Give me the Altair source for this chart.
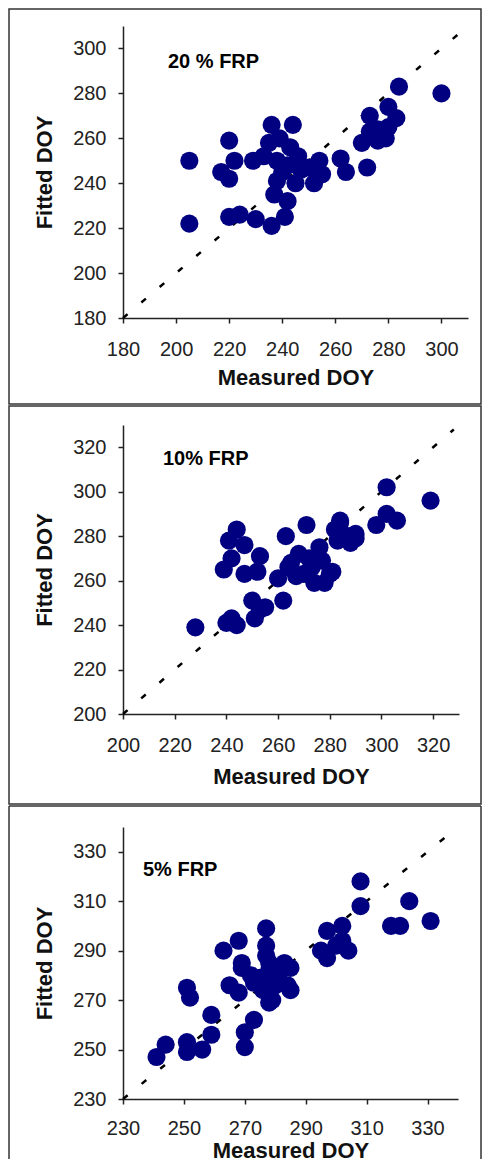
import altair as alt
import pandas as pd

# ---- data ----
meas_20 = [205, 205, 220, 217, 220, 222, 229, 220, 224, 230, 236, 236, 244, 235, 243, 238, 241, 242,
           237, 238, 240, 242, 247, 246, 252, 254, 255, 262, 264, 272, 270, 273, 273, 276, 276, 279,
           280, 280, 283, 284, 300, 250, 245, 233, 239]
fit_20 = [250, 222, 259, 245, 242, 250, 250, 225, 226, 224, 221, 266, 266, 258, 256, 250, 225, 232,
          235, 241, 245, 248, 246, 252, 240, 250, 244, 251, 245, 247, 258, 263, 270, 264, 259, 260,
          265, 274, 269, 283, 280, 247, 240, 252, 260]

meas_10 = [228, 240, 244, 242, 241, 244, 247, 242, 239, 247, 253, 252, 250, 253, 251, 255, 262, 263,
           260, 271, 265, 268, 273, 274, 277, 280, 276, 270, 264, 278, 282, 284, 283, 288, 290, 287,
           302, 319, 302, 298, 306, 284, 290, 281, 267, 272]
fit_10 = [239, 241, 240, 243, 278, 283, 276, 270, 265, 263, 271, 264, 251, 247, 243, 248, 251, 280,
          261, 285, 268, 272, 266, 259, 269, 263, 275, 263, 266, 259, 283, 286, 278, 277, 281, 280,
          302, 296, 290, 285, 287, 287, 279, 264, 262, 270]

meas_5 = [241, 244, 251, 252, 251, 251, 256, 259, 259, 263, 268, 265, 269, 268, 270, 270, 273, 277,
          277, 273, 278, 279, 283, 284, 281, 276, 272, 269, 277, 285, 285, 278, 280, 295, 297, 297,
          302, 304, 302, 300, 308, 308, 318, 321, 324, 331, 275, 278]
fit_5 = [247, 252, 275, 271, 253, 249, 250, 264, 256, 290, 294, 276, 285, 273, 251, 257, 262, 299,
         292, 277, 282, 270, 285, 276, 279, 274, 280, 283, 288, 283, 274, 269, 276, 290, 287, 298,
         300, 290, 294, 292, 318, 308, 300, 300, 310, 302, 279, 285]

labels = ["20 % FRP", "10% FRP", "5% FRP"]
x_domains = [[180, 310], [200, 330], [230, 340]]
y_domains = [[180, 310], [200, 330], [230, 340]]
x_ticks = [[180, 200, 220, 240, 260, 280, 300],
           [200, 220, 240, 260, 280, 300, 320],
           [230, 250, 270, 290, 310, 330]]
y_ticks = [[180, 200, 220, 240, 260, 280, 300],
           [200, 220, 240, 260, 280, 300, 320],
           [230, 250, 270, 290, 310, 330]]
diag_ends = [[180, 306], [200, 328], [230, 336]]

NAVY = "#000080"
FONT = "Liberation Sans"
FRAME_R = 358


def panel(meas, fit, diag, label, xdom, ydom, xt, yt, w, h,
          lab_xy, frame_top, frame_bottom, title_y, closed=True, lab_pad=16):
    pts = pd.DataFrame({"m": meas, "f": fit})
    dg = pd.DataFrame({"m": diag, "f": diag})
    xs = alt.Scale(domain=xdom, nice=False, zero=False)
    ys = alt.Scale(domain=ydom, nice=False, zero=False)
    xax = alt.Axis(values=xt, format="d", title="Measured DOY", labelFlush=False,
                   labelPadding=lab_pad, titleY=title_y, titleBaseline="middle")
    yax = alt.Axis(values=yt, format="d", title="Fitted DOY", labelFlush=False,
                   titleX=-79, titleBaseline="middle")

    line = alt.Chart(dg).mark_line(color="black", strokeWidth=2.5,
                                   strokeDash=[6, 18]).encode(
        x=alt.X("m:Q", scale=xs, axis=xax),
        y=alt.Y("f:Q", scale=ys, axis=yax),
    )
    dots = alt.Chart(pts).mark_circle(color=NAVY, opacity=1, size=330).encode(
        x=alt.X("m:Q", scale=xs),
        y=alt.Y("f:Q", scale=ys),
    )
    one = pd.DataFrame({"t": [label]})
    txt = alt.Chart(one).mark_text(align="left", baseline="middle", font=FONT,
                                   fontSize=20, fontWeight="bold", color="black").encode(
        x=alt.value(lab_xy[0]), y=alt.value(lab_xy[1]), text="t:N")
    layers = [line, dots, txt]
    fr = alt.Chart(pd.DataFrame({"a": [0]}))
    if closed:
        layers.append(fr.mark_rect(filled=False, color="#333333", strokeWidth=1.5).encode(
            x=alt.value(-114), x2=alt.value(FRAME_R),
            y=alt.value(frame_top), y2=alt.value(h + frame_bottom)))
    else:
        for xv in (-114, FRAME_R):
            layers.append(fr.mark_rule(color="#333333", strokeWidth=1.5).encode(
                x=alt.value(xv), y=alt.value(frame_top), y2=alt.value(h + frame_bottom)))
        layers.append(fr.mark_rule(color="#333333", strokeWidth=1.5).encode(
            x=alt.value(-114), x2=alt.value(FRAME_R), y=alt.value(frame_top)))
    return alt.layer(*layers).properties(width=w, height=h)


p1 = panel(meas_20, fit_20, diag_ends[0], labels[0], x_domains[0], y_domains[0],
           x_ticks[0], y_ticks[0], 345, 292, (45, 36), -17, 86, 59)
p2 = panel(meas_10, fit_10, diag_ends[1], labels[1], x_domains[1], y_domains[1],
           x_ticks[1], y_ticks[1], 336, 289, (40, 34), -19, 90, 62)
p3 = panel(meas_5, fit_5, diag_ends[2], labels[2], x_domains[2], y_domains[2],
           x_ticks[2], y_ticks[2], 335, 272, (20, 43), -21, 60, 51, closed=False, lab_pad=14)

chart = alt.vconcat(p1, p2, p3, spacing=0).properties(padding=0).configure_view(
    strokeOpacity=0
).configure_axis(
    grid=False,
    domainColor="#222222", domainWidth=1.5,
    tickColor="#222222", tickWidth=1.5, tickSize=5,
    labelFont=FONT, labelFontSize=20, labelColor="#222222", labelPadding=12,
    titleFont=FONT, titleFontSize=22, titleFontWeight="bold", titleColor="#111111",
)

chart.save("out.html", embed_options={"renderer": "svg", "actions": False})
